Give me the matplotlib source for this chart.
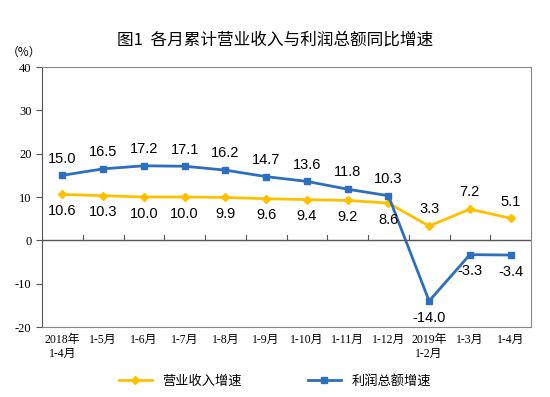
import matplotlib
matplotlib.use("Agg")
import matplotlib.pyplot as plt
import numpy as np

# ---------------------------------------------------------------------------
# Data
# ---------------------------------------------------------------------------
categories = ["2018年\n1-4月", "1-5月", "1-6月", "1-7月", "1-8月", "1-9月",
              "1-10月", "1-11月", "1-12月", "2019年\n1-2月", "1-3月", "1-4月"]
revenue = [10.6, 10.3, 10.0, 10.0, 9.9, 9.6, 9.4, 9.2, 8.6, 3.3, 7.2, 5.1]
profit = [15.0, 16.5, 17.2, 17.1, 16.2, 14.7, 13.6, 11.8, 10.3, -14.0, -3.3, -3.4]

YELLOW = "#FFC000"
BLUE = "#2E6EBE"
CJK = ["Noto Sans CJK SC", "DejaVu Sans"]
SERIF = ["Liberation Serif", "Noto Sans CJK SC"]

plt.rcParams["axes.unicode_minus"] = False

fig = plt.figure(figsize=(5.5, 3.97), dpi=100)
ax = fig.add_axes([42 / 550, 1 - 327 / 397, 489 / 550, 260 / 397])

x = np.arange(len(categories))
ax.plot(x, revenue, color=YELLOW, lw=2, marker="D", ms=4.5, label="营业收入增速")
ax.plot(x, profit, color=BLUE, lw=2, marker="s", ms=4, label="利润总额增速")

# value labels: profit above, revenue below (swapped after the crash)
for i, (r, p) in enumerate(zip(revenue, profit)):
    hi, lo = (p, r) if p > r else (r, p)
    ax.annotate(f"{hi:.1f}", (i, hi), xytext=(0, 7), textcoords="offset points",
                ha="center", va="bottom", fontsize=10.5, family="Liberation Sans")
    ax.annotate(f"{lo:.1f}", (i, lo), xytext=(0, -7), textcoords="offset points",
                ha="center", va="top", fontsize=10.5, family="Liberation Sans")

ax.set_xlim(-0.5, len(categories) - 0.5)
ax.set_ylim(-20, 40)
ax.set_yticks(range(-20, 41, 10))
ax.tick_params(axis="y", direction="out", length=4, labelsize=9, color="#555555")
for lbl in ax.get_yticklabels():
    lbl.set_family(SERIF)

# category ticks hang on the zero line at the boundaries
ax.set_xticks([])
ax.axhline(0, color="#555555", lw=1)
for b in np.arange(0.5, len(categories) - 0.5):
    ax.plot([b, b], [0, 1.2], color="#555555", lw=0.8)
for i, c in enumerate(categories):
    ax.text(i, -21.5, c, ha="center", va="top", fontsize=8.5,
            family=["Liberation Serif", "Noto Sans CJK SC"], transform=ax.transData,
            linespacing=1.3, clip_on=False)

for s in ax.spines.values():
    s.set_color("#888888")
ax.spines["left"].set_color("#555555")

fig.text(0.5, 1 - 40 / 397, "图1  各月累计营业收入与利润总额同比增速", ha="center",
         va="center", fontsize=12, family=CJK)
fig.text(24 / 550, 1 - 52 / 397, "（%）", ha="center", va="center", fontsize=8.5,
         family=["Noto Sans CJK SC", "DejaVu Sans"])

fig.legend(loc="center", bbox_to_anchor=(0.5, 1 - 381 / 397), ncol=2, frameon=False,
           prop={"family": CJK, "size": 9.5}, handlelength=2.5, columnspacing=5)

fig.savefig("out.png", dpi=100)
